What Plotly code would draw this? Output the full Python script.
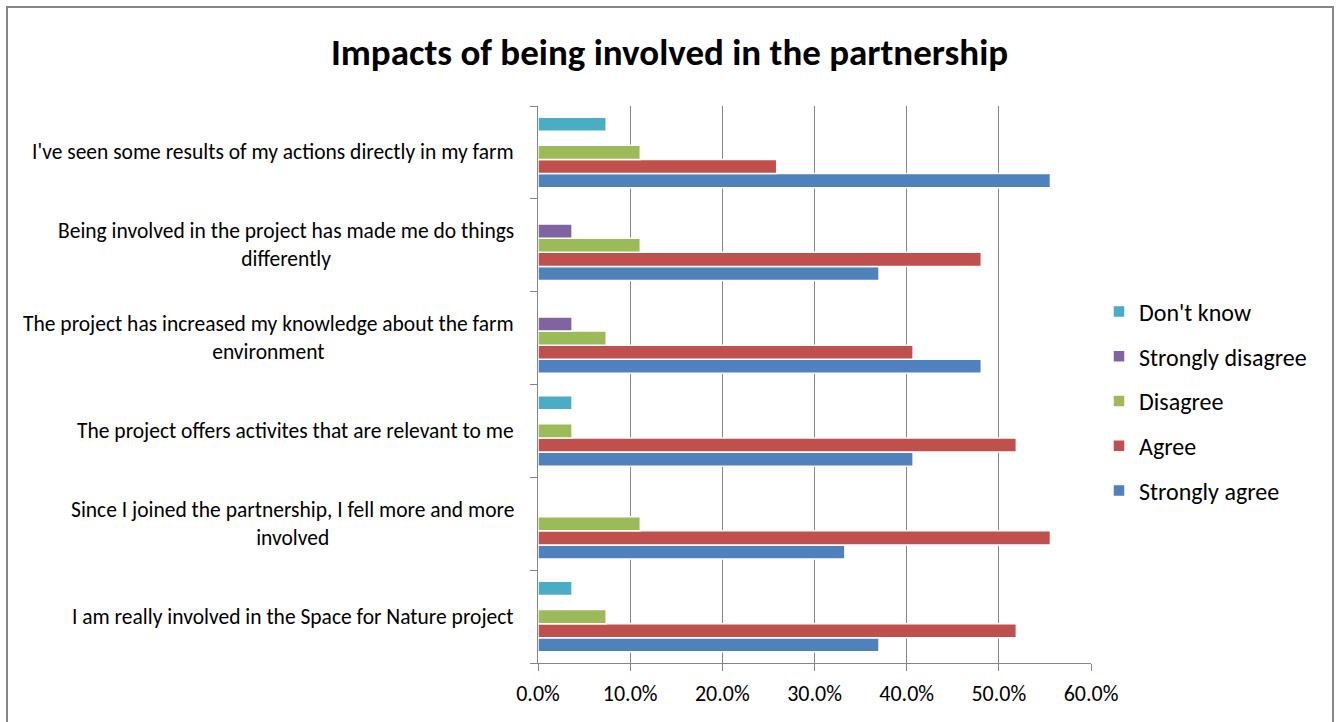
import plotly.graph_objects as go

categories = [
    "I am really involved in the Space for Nature project",
    "Since I joined the partnership, I fell more and more<br>involved",
    "The project offers activites that are relevant to me",
    "The project has increased my knowledge about the farm<br>environment",
    "Being involved in the project has made me do things<br>differently",
    "I've seen some results of my actions directly in my farm",
]
series_names = ["Strongly agree", "Agree", "Disagree", "Strongly disagree", "Don't know"]
strongly_agree = [0.370, 0.333, 0.407, 0.481, 0.370, 0.556]
agree = [0.519, 0.556, 0.519, 0.407, 0.481, 0.259]
disagree = [0.074, 0.111, 0.037, 0.074, 0.111, 0.111]
strongly_disagree = [0.0, 0.0, 0.0, 0.037, 0.037, 0.0]
dont_know = [0.037, 0.0, 0.037, 0.0, 0.0, 0.074]
colors = ["#4F81BD", "#C0504D", "#9BBB59", "#8064A2", "#4BACC6"]
x_ticks = [0, 0.1, 0.2, 0.3, 0.4, 0.5, 0.6]

W, H = 1339, 722
L, R, T, B = 538, 1091, 106, 663
pw, ph = R - L, B - T

def px_x(p):
    return (p - L) / pw

def px_y(p):
    return (B - p) / ph

FONT = "Carlito, Calibri, Lato, sans-serif"

fig = go.Figure()
all_vals = [strongly_agree, agree, disagree, strongly_disagree, dont_know]
for i, (name, vals) in enumerate(zip(series_names, all_vals)):
    fig.add_trace(go.Bar(
        y=categories, x=vals, name=name, orientation="h",
        marker=dict(color=colors[i], line=dict(color="white", width=1.5)),
        legendgroup=name, legendrank=100 - i,
    ))

annotations = []
for c in categories:
    annotations.append(dict(
        x=0, xref="paper", y=c, yref="y", text=c, showarrow=False,
        xanchor="right", yanchor="middle", xshift=-22, align="center",
        font=dict(family=FONT, size=21.5, color="black"),
    ))

fig.update_layout(
    width=W, height=H,
    margin=dict(l=L, r=W - R, t=T, b=H - B),
    paper_bgcolor="white", plot_bgcolor="white",
    barmode="group", bargap=0.24, bargroupgap=0,
    title=dict(text="<b>Impacts of being involved in the partnership</b>",
               x=0.5, xanchor="center", y=1 - 52 / H, yanchor="middle",
               font=dict(family=FONT, size=37, color="black")),
    font=dict(family=FONT, color="black"),
    xaxis=dict(range=[0, 0.6], tickvals=x_ticks, tickformat=".1%",
               showgrid=True, gridcolor="#868686", gridwidth=1,
               showline=True, linecolor="#868686", linewidth=1,
               ticks="outside", ticklen=7, tickcolor="#868686",
               ticklabelstandoff=4,
               tickfont=dict(family=FONT, size=22, color="black"),
               zeroline=False, fixedrange=True),
    yaxis=dict(categoryorder="array", categoryarray=categories,
               showticklabels=False, showline=True, linecolor="#868686", linewidth=1,
               ticks="outside", ticklen=7, tickcolor="#868686", tickson="boundaries",
               showgrid=False, zeroline=False),
    legend=dict(x=px_x(1099), xanchor="left", y=px_y(401), yanchor="middle",
                traceorder="grouped", tracegroupgap=10.5,
                font=dict(family=FONT, size=24, color="black"),
                bgcolor="rgba(0,0,0,0)"),
    annotations=annotations,
    shapes=[dict(type="rect", xref="paper", yref="paper",
                 x0=px_x(7), x1=px_x(1333), y0=px_y(740), y1=px_y(7),
                 line=dict(color="#868686", width=2), layer="below")],
)

fig.write_html("out.html")
